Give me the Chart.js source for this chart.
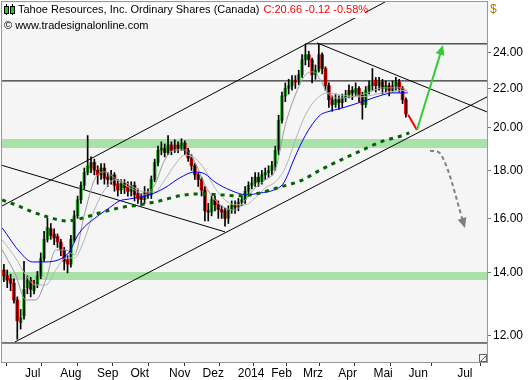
<!DOCTYPE html>
<html>
<head>
<meta charset="utf-8">
<script src="https://cdn.jsdelivr.net/npm/chart.js@4.4.0/dist/chart.umd.min.js"></script>
<style>
  html, body { margin: 0; padding: 0; background: #fff; }
</style>
</head>
<body>
<canvas id="chart" width="530" height="380"></canvas>
<script>
// candles every 2nd trading day, day 0 = first trading day of July 2013
const firstDay = -12;
const dayStep = 2;

const opens = [14.1, 13.9, 13.8, 13.65, 13.1, 12.4, 12.6, 13.5, 13.75, 13.4,
  13.6, 13.9, 14.5, 15.2, 15.6, 15.4, 15.3, 15.1, 14.8, 14.45,
  14.3, 15.2, 16.1, 16.75, 17.35, 17.9, 18.1, 18.35, 18.0, 17.8,
  18.1, 17.7, 17.6, 17.8, 17.4, 17.15, 17.45, 17.3, 17.1, 17.35,
  17.0, 16.85, 16.75, 17.05, 16.95, 17.6, 18.35, 18.9, 19.0, 18.8,
  19.15, 18.9, 19.15, 19.0, 19.25, 18.9, 18.55, 18.2, 17.8, 17.6,
  17.15, 16.3, 16.25, 16.75, 16.55, 16.35, 16.3, 16.0, 16.35, 16.55,
  16.45, 16.65, 16.75, 17.1, 17.35, 17.45, 17.7, 17.5, 17.8, 17.9,
  18.0, 18.2, 18.9, 20.35, 21.6, 22.0, 22.15, 22.45, 22.35, 22.75,
  23.6, 23.9, 23.6, 22.75, 23.0, 23.9, 23.1, 22.15, 21.4, 21.15,
  21.4, 21.25, 21.5, 21.65, 21.9, 21.75, 22.0, 21.65, 21.15, 21.9,
  22.15, 22.45, 22.15, 22.35, 22.0, 22.15, 21.9, 22.15, 22.35, 22.0,
  21.4];
const highs = [14.3, 14.1, 13.95, 13.8, 13.2, 12.8, 14.4, 13.9, 13.85, 13.75,
  14.05, 14.7, 15.5, 16.0, 15.8, 15.6, 15.4, 15.2, 14.9, 14.6,
  15.35, 16.3, 16.9, 17.5, 18.1, 19.6, 18.6, 18.5, 18.2, 18.3,
  18.3, 17.9, 18.0, 17.9, 17.6, 17.6, 17.6, 17.5, 17.5, 17.5,
  17.2, 17.0, 17.3, 17.2, 17.75, 18.5, 19.1, 19.3, 19.2, 19.6,
  19.3, 19.4, 19.3, 19.45, 19.35, 19.0, 18.7, 18.3, 17.9, 17.7,
  17.3, 16.6, 16.9, 16.9, 16.7, 16.5, 16.4, 16.5, 16.7, 16.7,
  16.8, 16.9, 17.3, 17.5, 17.7, 17.9, 17.9, 18.0, 18.1, 18.2,
  18.4, 19.1, 20.6, 21.8, 22.3, 22.5, 22.7, 22.7, 23.0, 23.9,
  24.5, 24.1, 23.7, 23.3, 24.5, 24.0, 23.2, 22.3, 21.6, 21.7,
  21.6, 21.7, 21.9, 22.2, 22.1, 22.3, 22.1, 21.8, 22.1, 22.4,
  23.1, 22.6, 22.6, 22.5, 22.4, 22.3, 22.4, 22.6, 22.5, 22.1,
  21.5];
const lows = [13.7, 13.5, 13.4, 13.0, 11.9, 12.2, 12.5, 13.3, 13.2, 13.3,
  13.5, 13.8, 14.4, 15.1, 15.2, 15.0, 14.9, 14.6, 14.1, 14.0,
  14.2, 15.1, 16.0, 16.6, 17.2, 17.8, 17.9, 17.8, 17.4, 17.6,
  17.4, 17.3, 17.4, 17.1, 16.9, 17.0, 17.0, 16.9, 16.9, 16.7,
  16.6, 16.5, 16.6, 16.8, 16.8, 17.5, 18.2, 18.7, 18.6, 18.7,
  18.7, 18.8, 18.8, 18.9, 18.7, 18.4, 18.0, 17.6, 17.3, 16.9,
  15.9, 15.9, 16.1, 16.3, 16.0, 16.0, 15.7, 15.8, 16.2, 16.2,
  16.3, 16.5, 16.6, 17.0, 17.2, 17.3, 17.3, 17.4, 17.6, 17.7,
  17.8, 18.0, 18.7, 20.2, 21.3, 21.7, 21.9, 22.0, 22.2, 22.6,
  23.3, 23.2, 22.3, 22.5, 22.9, 22.8, 21.9, 21.0, 20.8, 21.0,
  20.9, 21.0, 21.3, 21.5, 21.4, 21.6, 21.3, 20.4, 21.0, 21.7,
  21.9, 21.8, 21.9, 21.7, 21.8, 21.6, 21.8, 21.9, 21.8, 21.2,
  20.5];
const closes = [13.9, 13.75, 13.65, 13.1, 12.45, 12.55, 13.45, 13.75, 13.45, 13.6,
  13.9, 14.5, 15.2, 15.65, 15.35, 15.25, 15.1, 14.8, 14.4, 14.3,
  15.2, 16.1, 16.75, 17.35, 17.9, 18.2, 18.35, 18.0, 17.8, 18.1,
  17.65, 17.6, 17.8, 17.35, 17.15, 17.45, 17.25, 17.1, 17.35, 16.95,
  16.8, 16.75, 17.05, 16.95, 17.6, 18.35, 18.9, 19.0, 18.8, 19.15,
  18.9, 19.15, 19.0, 19.25, 18.9, 18.55, 18.2, 17.8, 17.6, 17.15,
  16.3, 16.25, 16.75, 16.55, 16.35, 16.25, 16.0, 16.35, 16.55, 16.45,
  16.65, 16.75, 17.1, 17.35, 17.45, 17.7, 17.5, 17.8, 17.9, 18.0,
  18.2, 18.9, 20.35, 21.6, 22.0, 22.15, 22.45, 22.35, 22.75, 23.6,
  23.9, 23.6, 22.75, 23.0, 23.9, 23.1, 22.15, 21.4, 21.15, 21.4,
  21.25, 21.5, 21.65, 21.9, 21.75, 22.0, 21.65, 21.15, 21.9, 22.15,
  22.45, 22.15, 22.35, 22.0, 22.15, 21.9, 22.15, 22.35, 22.0, 21.4,
  20.66];

// moving averages
const maFastDays = [-13, -5, 1, 7, 13, 19, 25, 30, 36, 42, 48, 54, 60, 66, 72, 78, 84, 90, 96, 102,
  108, 114, 120, 126, 132, 138, 144, 150, 156, 162, 168, 173, 177, 181, 189, 198, 205, 214, 225, 229];
const maFast = [14.81, 13.93, 13.10, 13.10, 13.76, 14.81, 14.81, 14.63, 16.14, 17.58, 17.93, 17.67, 17.37, 17.15, 16.95, 17.37, 18.46, 18.92, 18.92, 18.37,
  17.37, 16.74, 16.42, 16.33, 16.74, 17.24, 17.58, 18.02, 20.12, 21.65, 22.74, 22.91, 22.46, 21.76, 21.49, 21.60, 21.76, 22.03, 22.03, 21.81];
const maSlowDays = [-13, -5, 1, 7, 13, 19, 25, 30, 36, 42, 48, 54, 60, 66, 72, 78, 84, 90, 96, 102,
  108, 114, 120, 126, 132, 138, 144, 150, 156, 162, 168, 174, 181, 189, 201, 214, 229];
const maSlow = [15.18, 14.52, 13.93, 13.59, 13.59, 14.10, 14.52, 14.52, 15.18, 16.33, 17.15, 17.58, 17.49, 17.24, 17.07, 17.07, 17.58, 18.24, 18.69, 18.55,
  18.02, 17.24, 16.74, 16.54, 16.54, 16.82, 17.24, 17.49, 18.11, 19.39, 20.62, 21.39, 21.76, 21.65, 21.55, 21.76, 21.92];
const maMidDays = [-13, -2, 5, 11, 26, 33, 45, 51, 57, 63, 75, 84, 93, 102, 108, 114, 123, 133, 141, 149,
  155, 161, 165, 171, 177, 181, 190, 205, 214, 220, 229];
const maMid = [15.63, 14.70, 14.38, 14.38, 14.66, 15.44, 16.14, 16.42, 16.70, 16.78, 16.95, 17.24, 17.67, 17.93, 17.84, 17.49, 17.15, 16.95, 17.03, 17.15,
  17.45, 18.46, 19.15, 20.02, 20.62, 20.77, 20.97, 21.39, 21.65, 21.76, 21.76];
const maLongDays = [-13, -5, 5, 16, 25, 33, 45, 57, 69, 81, 93, 105, 117, 129, 141, 153, 165, 177, 189, 201, 213, 225, 230];
const maLong = [16.74, 16.54, 16.26, 16.02, 15.90, 15.98, 16.21, 16.42, 16.54, 16.70, 16.91, 16.99, 16.95, 16.91, 17.03, 17.28, 17.54, 18.02, 18.46, 18.88, 19.30, 19.58, 19.73];

// drawn studies: [startDay, startPrice, endDay, endPrice]
const trendLines = [
  [-14.3, 16.45, 215.5, 27.19],
  [-5.4, 11.82, 276.4, 21.55],
  [-13.1, 18.22, 120, 15.48],
  [174.9, 24.60, 276.4, 20.77],
  [167.8, 24.54, 276.4, 24.54],
  [-13.1, 22.41, 276.4, 22.41],
  [-13.1, 11.79, 276.4, 11.79]
];
// support zones [low, high]
const zones = [[19.01, 19.44], [13.76, 14.03]];
// scenario arrows: days, prices
const arrowDownDays = [229.3, 234.6];
const arrowDown = [20.62, 19.87];
const arrowUpDays = [234.6, 249.6];
const arrowUp = [19.87, 24.30];
const arrowAltDays = [242.4, 247.2, 251.9, 262.7];
const arrowAlt = [18.88, 18.83, 18.24, 15.74];

const monthDays = [0, 21, 43, 63, 86, 106, 127, 147, 166, 187, 208, 229, 258];
const monthLabels = ['Jul', 'Aug', 'Sep', 'Okt', 'Nov', 'Dez', '2014', 'Feb', 'Mrz', 'Apr', 'Mai', 'Jun', 'Jul'];
const priceTicks = [12, 14, 16, 18, 20, 22, 24];

const FONT = '"Liberation Sans", Arial, sans-serif';
const pts = (days, vals) => days.map((d, i) => ({ x: d, y: vals[i] }));
const candleDay = i => firstDay + i * dayStep;

const line = (data, color, width, order, extra) => Object.assign({
  type: 'line', data, borderColor: color, borderWidth: width, pointRadius: 0,
  fill: false, order
}, extra || {});

const datasets = [];
zones.forEach(z => {
  datasets.push(line([{ x: -14, y: z[1] }, { x: 277, y: z[1] }], 'rgba(0,0,0,0)', 0, 20,
    { fill: '+1', backgroundColor: '#a8e2a8' }));
  datasets.push(line([{ x: -14, y: z[0] }, { x: 277, y: z[0] }], 'rgba(0,0,0,0)', 0, 20));
});
trendLines.forEach(t => {
  datasets.push(line([{ x: t[0], y: t[1] }, { x: t[2], y: t[3] }], '#000', 1, 15));
});
datasets.push({
  type: 'bar', order: 12, grouped: false, barThickness: 3, minBarLength: 1,
  data: opens.map((o, i) => ({ x: candleDay(i), y: [Math.min(o, closes[i]), Math.max(o, closes[i])] })),
  backgroundColor: opens.map((o, i) => closes[i] >= o ? '#2fc42f' : '#ff0000')
});
datasets.push({
  type: 'bar', order: 11, grouped: false, barThickness: 1,
  data: highs.map((h, i) => ({ x: candleDay(i), y: [lows[i], h] })),
  backgroundColor: '#000'
});
datasets.push(line(pts(maSlowDays, maSlow), '#b4b4b4', 1, 10, { cubicInterpolationMode: 'monotone' }));
datasets.push(line(pts(maFastDays, maFast), '#9a9a9a', 1, 9, { cubicInterpolationMode: 'monotone' }));
datasets.push(line(pts(maMidDays, maMid), '#0000ff', 1, 8, { cubicInterpolationMode: 'monotone' }));
datasets.push(line(pts(maLongDays, maLong), '#006400', 3, 7,
  { cubicInterpolationMode: 'monotone', borderDash: [4, 5], borderCapStyle: 'butt' }));
datasets.push(line(pts(arrowDownDays, arrowDown), '#ff0000', 2, 3));
datasets.push(line(pts(arrowUpDays, arrowUp), '#33cc33', 2, 2, { arrowHead: true }));
datasets.push(line(pts(arrowAltDays, arrowAlt), '#808080', 2, 1,
  { borderDash: [4, 3], arrowHead: true, cubicInterpolationMode: 'monotone' }));

const frame = {
  id: 'frame',
  beforeDraw(chart) {
    const { ctx, chartArea: a } = chart;
    ctx.save();
    ctx.fillStyle = '#fff';
    ctx.fillRect(0, 0, chart.width, chart.height);
    ctx.fillStyle = '#f5f5f5';
    ctx.fillRect(a.left, a.top, a.right - a.left, a.bottom - a.top);
    ctx.restore();
  },
  afterDatasetsDraw(chart) {
    const { ctx, chartArea: a } = chart;
    ctx.save();
    // arrow heads
    chart.data.datasets.forEach((ds, i) => {
      if (!ds.arrowHead) return;
      const p = chart.getDatasetMeta(i).data;
      const b = p[p.length - 1], c = p[p.length - 2];
      const ang = Math.atan2(b.y - c.y, b.x - c.x);
      ctx.fillStyle = ds.borderColor;
      ctx.beginPath();
      ctx.moveTo(b.x + 3 * Math.cos(ang), b.y + 3 * Math.sin(ang));
      ctx.lineTo(b.x - 7 * Math.cos(ang) + 4.5 * Math.sin(ang), b.y - 7 * Math.sin(ang) - 4.5 * Math.cos(ang));
      ctx.lineTo(b.x - 7 * Math.cos(ang) - 4.5 * Math.sin(ang), b.y - 7 * Math.sin(ang) + 4.5 * Math.cos(ang));
      ctx.closePath();
      ctx.fill();
    });
    // title strip
    ctx.fillStyle = '#fff';
    ctx.fillRect(a.left + 1, a.top + 1, 362, 15);
    ctx.strokeStyle = '#000';
    ctx.lineWidth = 1;
    [6, 12].forEach(cx => {
      ctx.beginPath();
      ctx.moveTo(cx + 0.5, 4); ctx.lineTo(cx + 0.5, 15); ctx.stroke();
      ctx.fillStyle = '#2fc42f';
      ctx.fillRect(cx - 1, 6, 3, 7);
      ctx.strokeRect(cx - 1.5, 6.5, 4, 7);
    });
    ctx.font = '11px ' + FONT;
    ctx.textBaseline = 'middle';
    ctx.textAlign = 'left';
    const title = 'Tahoe Resources, Inc. Ordinary Shares (Canada)';
    ctx.fillStyle = '#000';
    ctx.fillText(title, 18, 10);
    ctx.fillStyle = '#ff0000';
    ctx.fillText('C:20.66 -0.12 -0.58%', 18 + ctx.measureText(title).width + 4, 10);
    ctx.fillStyle = '#000';
    ctx.fillText('\u00a9 www.tradesignalonline.com', 4, 26);
    // plot border
    ctx.strokeStyle = '#999';
    ctx.strokeRect(a.left - 0.5, a.top - 0.5, a.right - a.left + 1, a.bottom - a.top + 1);
    // size grip
    ctx.strokeStyle = '#666';
    ctx.strokeRect(a.right - 7.5, a.bottom - 7.5, 7, 7);
    ctx.beginPath();
    ctx.moveTo(a.right - 6, a.bottom - 1); ctx.lineTo(a.right - 1, a.bottom - 6); ctx.stroke();
    ctx.fillStyle = '#b07800';
    ctx.font = '12px ' + FONT;
    ctx.fillText('$', a.right + 3, 10);
    ctx.restore();
  }
};

new Chart(document.getElementById('chart'), {
  type: 'bar',
  data: { datasets },
  plugins: [frame],
  options: {
    responsive: false,
    animation: false,
    devicePixelRatio: 1,
    layout: { padding: { left: 2, top: 2, right: 0, bottom: 0 } },
    plugins: { legend: { display: false }, tooltip: { enabled: false } },
    scales: {
      x: {
        type: 'linear', min: -13.13, max: 276.4, offset: false,
        afterBuildTicks: s => { s.ticks = monthDays.map(v => ({ value: v })); },
        afterFit: s => { s.height = 18; s.paddingLeft = 0; s.paddingRight = 0; },
        grid: { drawOnChartArea: false, tickLength: 4, color: '#333' },
        border: { display: false },
        ticks: {
          autoSkip: false, maxRotation: 0, align: 'start', padding: 0, labelOffset: 1,
          color: '#000', font: { family: FONT, size: 12 },
          callback: (v, i) => monthLabels[i]
        }
      },
      y: {
        type: 'logarithmic', position: 'right', min: 11.253, max: 27.19,
        afterBuildTicks: s => { s.ticks = priceTicks.map(v => ({ value: v })); },
        afterFit: s => { s.width = 43; s.paddingTop = 0; s.paddingBottom = 0; },
        grid: { drawOnChartArea: false, tickLength: 4, color: '#777' },
        border: { display: false },
        ticks: {
          padding: 2, color: '#000', font: { family: FONT, size: 12 },
          callback: v => Number(v).toFixed(2)
        }
      }
    }
  }
});
</script>
</body>
</html>
